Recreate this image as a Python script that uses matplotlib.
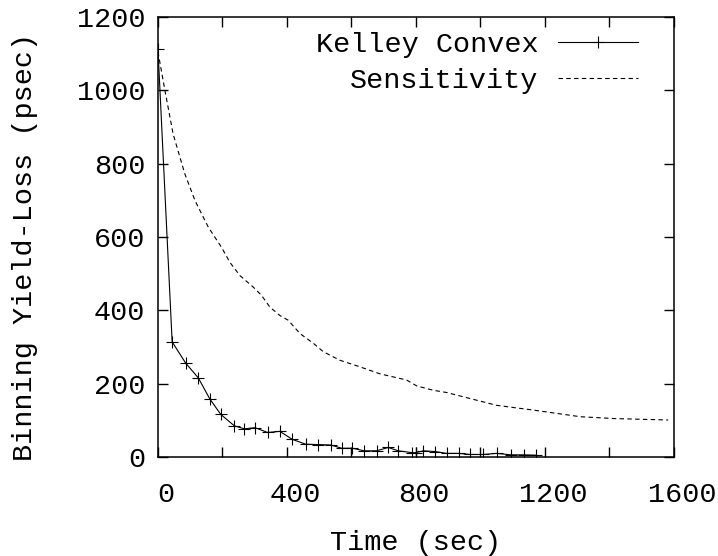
import matplotlib
matplotlib.use('Agg')
import matplotlib.pyplot as plt
import matplotlib.transforms as mtransforms

#=============================== data ===============================
kelley_t = [0, 44, 86, 125, 161, 195, 237, 268, 301, 340, 378, 417, 458, 495, 535, 570,
            603, 639, 678, 714, 745, 787, 799, 823, 859, 895, 933, 967, 1009, 1050, 1094,
            1135, 1172]
kelley_loss = [1113, 314, 256, 216, 158, 116, 85, 77, 80, 67, 70, 48, 35, 34, 33, 24,
               24, 17, 17, 26, 17, 12, 12, 17, 15, 10, 10, 7, 7, 10, 6, 6, 5]

sens_t = [0, 22, 47, 83, 115, 156, 197, 223, 254, 296, 321, 347, 378, 404, 440, 482,
          513, 564, 626, 688, 771, 802, 854, 895, 988, 1050, 1164, 1309, 1412, 1582]
sens_loss = [1105, 998, 881, 773, 699, 627, 572, 531, 495, 463, 441, 409, 386, 373, 337,
             310, 287, 264, 246, 227, 210, 194, 182, 176, 155, 141, 128, 110, 105, 101]

xticks = [0, 200, 400, 600, 800, 1000, 1200, 1400, 1600]
xtick_labels = ['0', '', '400', '', '800', '', '1200', '', '1600']
yticks = [0, 200, 400, 600, 800, 1000, 1200]

#=============================== figure ===============================
plt.rcParams['font.family'] = ['Liberation Mono', 'DejaVu Sans Mono']
plt.rcParams['font.size'] = 20.5

fig = plt.figure(figsize=(7.18, 5.56), dpi=100)
ax = fig.add_axes([0.22, 0.178, 0.7187, 0.7914])

ax.plot(kelley_t, kelley_loss, color='black', lw=0.8, marker='+', ms=9, mew=0.8,
        label='Kelley Convex')
ax.plot(sens_t, sens_loss, color='black', lw=0.8, ls=(0, (4, 3)), label='Sensitivity')

ax.set_xlim(0, 1600)
ax.set_ylim(0, 1200)
ax.set_xticks(xticks)
ax.set_xticklabels(xtick_labels)
ax.set_yticks(yticks)
ax.tick_params(direction='in', length=7, width=1, top=True, right=True)
ax.tick_params(axis='x', pad=18)
ax.tick_params(axis='y', pad=9)
for s in ax.spines.values():
    s.set_linewidth(1.1)

# gnuplot puts the x labels a bit right of their ticks
shift = mtransforms.ScaledTranslation(0.08, 0, fig.dpi_scale_trans)
for lab in ax.get_xticklabels():
    lab.set_transform(lab.get_transform() + shift)

ax.set_xlabel('Time (sec)', labelpad=16)
ax.set_ylabel('Binning Yield-Loss (psec)')
ax.yaxis.set_label_coords(-0.232, 0.477)

ax.legend(loc='upper right', bbox_to_anchor=(0.941, 0.978), frameon=False,
          markerfirst=False, numpoints=1, handlelength=2.8, handletextpad=0.7,
          labelspacing=0.34, borderaxespad=0, borderpad=0.2)

fig.savefig('out.png', dpi=100)
